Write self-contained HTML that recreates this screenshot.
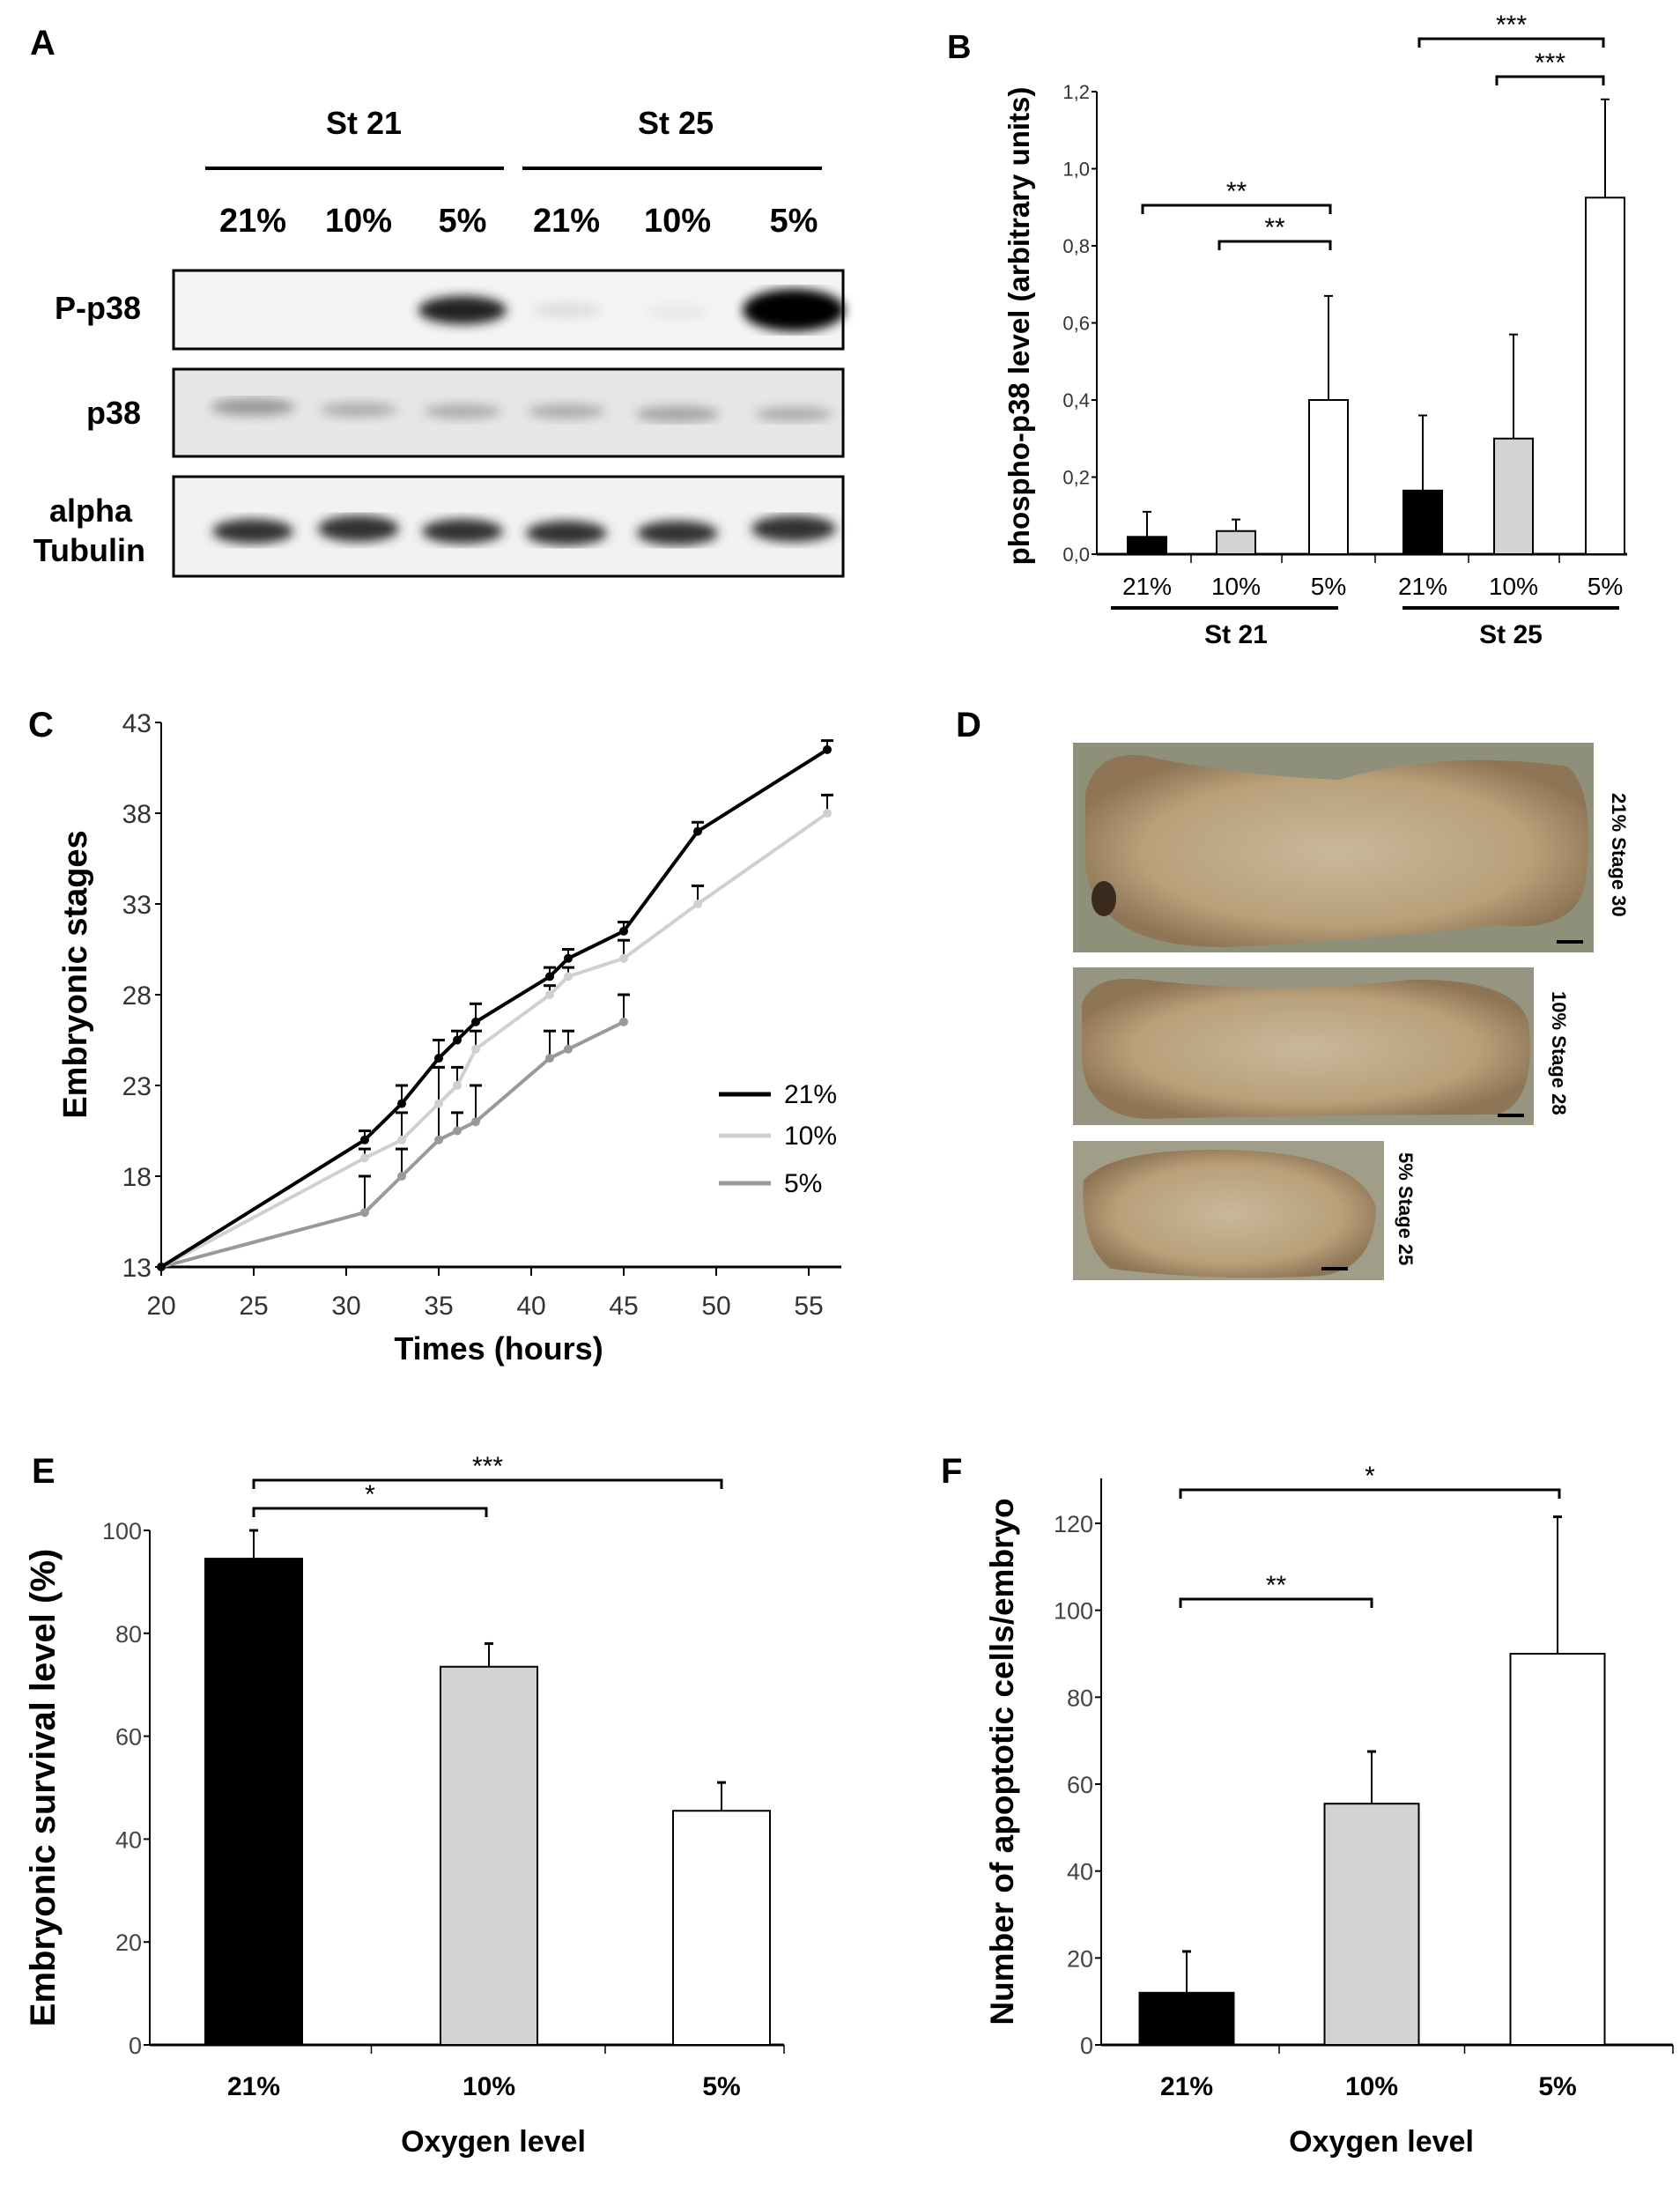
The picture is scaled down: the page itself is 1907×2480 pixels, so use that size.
<!DOCTYPE html>
<html><head><meta charset="utf-8">
<style>
html,body{margin:0;padding:0;background:#fff;}
svg{display:block;}
.nar{font-family:"Liberation Sans Narrow","Liberation Sans",sans-serif;}
.bold{font-family:"Liberation Sans",sans-serif;font-weight:bold;}
</style></head>
<body>
<svg id="fig" width="1907" height="2480" viewBox="0 0 1907 2480" xmlns="http://www.w3.org/2000/svg">
<defs>
<radialGradient id="emb" cx="50%" cy="50%" r="55%">
<stop offset="0" stop-color="#c9b89a"/><stop offset="0.7" stop-color="#b8a07a"/><stop offset="1" stop-color="#8d7556"/>
</radialGradient>
<filter id="blur"><feGaussianBlur stdDeviation="6"/></filter>
</defs>
<g id="panelA">
<text x="34" y="62" class="bold" font-size="40">A</text>
<text x="413" y="152" class="nar" font-weight="bold" font-size="36" text-anchor="middle">St 21</text>
<text x="767" y="152" class="nar" font-weight="bold" font-size="36" text-anchor="middle">St 25</text>
<line x1="233" y1="191" x2="572" y2="191" stroke="#000" stroke-width="4"/>
<line x1="593" y1="191" x2="933" y2="191" stroke="#000" stroke-width="4"/>
<g class="nar" font-weight="bold" font-size="38" text-anchor="middle">
<text x="287" y="263">21%</text><text x="407" y="263">10%</text><text x="525" y="263">5%</text>
<text x="643" y="263">21%</text><text x="769" y="263">10%</text><text x="901" y="263">5%</text>
</g>
<g class="nar" font-weight="bold" font-size="36" text-anchor="end">
<text x="160" y="362">P-p38</text>
<text x="160" y="481">p38</text>
<text x="150" y="592">alpha</text>
<text x="165" y="637">Tubulin</text>
</g>
<g>
<rect x="197" y="307" width="760" height="89" fill="#f4f4f4" stroke="#000" stroke-width="3"/>
<g filter="url(#blur)">
<ellipse cx="525" cy="352" rx="50" ry="16" fill="#222"/>
<ellipse cx="643" cy="352" rx="40" ry="8" fill="#ddd"/>
<ellipse cx="769" cy="354" rx="35" ry="6" fill="#e4e4e4"/>
<ellipse cx="901" cy="352" rx="58" ry="24" fill="#000"/>
</g></g>
<g>
<rect x="197" y="419" width="760" height="99" fill="#e6e6e6" stroke="#000" stroke-width="3"/>
<g filter="url(#blur)" fill="#999">
<ellipse cx="287" cy="462" rx="48" ry="10"/><ellipse cx="407" cy="465" rx="44" ry="8" fill="#aaa"/><ellipse cx="525" cy="467" rx="44" ry="8" fill="#aaa"/>
<ellipse cx="643" cy="467" rx="44" ry="8" fill="#aaa"/><ellipse cx="769" cy="470" rx="48" ry="9" fill="#a4a4a4"/><ellipse cx="901" cy="470" rx="44" ry="8" fill="#aaa"/>
</g></g>
<g>
<rect x="197" y="541" width="760" height="113" fill="#f2f2f2" stroke="#000" stroke-width="3"/>
<g filter="url(#blur)" fill="#333">
<ellipse cx="287" cy="603" rx="46" ry="14"/><ellipse cx="407" cy="600" rx="46" ry="15"/><ellipse cx="525" cy="603" rx="46" ry="14"/>
<ellipse cx="643" cy="605" rx="46" ry="14"/><ellipse cx="769" cy="605" rx="46" ry="14"/><ellipse cx="901" cy="600" rx="48" ry="15"/>
</g></g>
</g>
<g id="panelB"></g>
<g id="panelC"></g>
<g id="panelD">
<text x="1085" y="836" class="bold" font-size="40">D</text>
<g>
<rect x="1218" y="843" width="591" height="238" fill="#8e9079"/>
<path d="M1232 900 Q1245 850 1300 858 Q1400 880 1520 885 Q1640 850 1780 870 Q1812 900 1800 1000 Q1790 1060 1700 1050 Q1520 1070 1390 1075 Q1240 1075 1232 980 Z" fill="url(#emb)"/>
<ellipse cx="1253" cy="1020" rx="14" ry="20" fill="#3a2b1e"/>
<rect x="1767" y="1067" width="30" height="4" fill="#000"/>
</g>
<text transform="translate(1830,900) rotate(90)" class="bold" font-size="22">21% Stage 30</text>
<g>
<rect x="1218" y="1098" width="523" height="179" fill="#959581"/>
<path d="M1228 1140 Q1240 1105 1300 1112 Q1450 1130 1600 1112 Q1720 1110 1735 1160 Q1745 1250 1700 1265 Q1500 1265 1300 1270 Q1230 1265 1228 1200 Z" fill="url(#emb)"/>
<rect x="1700" y="1264" width="30" height="4" fill="#000"/>
</g>
<text transform="translate(1762,1125) rotate(90)" class="bold" font-size="22">10% Stage 28</text>
<g>
<rect x="1218" y="1295" width="353" height="158" fill="#a09d88"/>
<path d="M1230 1340 Q1260 1305 1380 1305 Q1540 1305 1562 1370 Q1560 1440 1500 1448 Q1380 1455 1260 1440 Q1225 1410 1230 1340 Z" fill="url(#emb)"/>
<rect x="1500" y="1438" width="30" height="4" fill="#000"/>
</g>
<text transform="translate(1588,1308) rotate(90)" class="bold" font-size="22">5% Stage 25</text>
</g>
<g id="panelE"></g>
<g id="panelF"></g>
</svg>
<script>
const NS='http://www.w3.org/2000/svg';
function mk(parent,tag,attrs,text){const e=document.createElementNS(NS,tag);for(const k in attrs)e.setAttribute(k,attrs[k]);if(text!==undefined)e.textContent=text;parent.appendChild(e);return e;}

// ---- Panel B data ----
const bCategories=['21%','10%','5%','21%','10%','5%'];
const bValues=[0.045,0.06,0.40,0.165,0.30,0.925];
const bErrTop=[0.11,0.09,0.67,0.36,0.57,1.18];
const bFills=['#000','#d3d3d3','#fff','#000','#d3d3d3','#fff'];
const bTicks=['0,0','0,2','0,4','0,6','0,8','1,0','1,2'];
// ---- Panel C data ----
const cTimes21=[20,31,33,35,36,37,41,42,45,49,56];
const cStage21=[13,20,22,24.5,25.5,26.5,29,30,31.5,37,41.5];
const cErr21=[0,0.5,1,1,0.5,1,0.5,0.5,0.5,0.5,0.5];
const cTimes10=[20,31,33,35,36,37,41,42,45,49,56];
const cStage10=[13,19,20,22,23,25,28,29,30,33,38];
const cErr10=[0,0.5,1.5,2,1,1,0.5,0.5,1,1,1];
const cTimes5=[20,31,33,35,36,37,41,42,45];
const cStage5=[13,16,18,20,20.5,21,24.5,25,26.5];
const cErr5=[0,2,1.5,4,1,2,1.5,1,1.5];
const cXTicks=[20,25,30,35,40,45,50,55];
const cYTicks=[13,18,23,28,33,38,43];
// ---- Panel E data ----
const eCategories=['21%','10%','5%'];
const eValues=[94.5,73.5,45.5];
const eErrTop=[100,78,51];
const eTicks=[0,20,40,60,80,100];
// ---- Panel F data ----
const fCategories=['21%','10%','5%'];
const fValues=[12,55.5,90];
const fErrTop=[21.5,67.5,121.5];
const fTicks=[0,20,40,60,80,100,120];
const triFills=['#000','#d3d3d3','#fff'];

function bracket(g,x1,x2,y,label,name){
  const p=mk(g,'path',{d:`M${x1} ${y+10}V${y}H${x2}V${y+10}`,fill:'none',stroke:'#000','stroke-width':3});
  
  
  const t=mk(g,'text',{x:(x1+x2)/2,y:y-6,'text-anchor':'middle','font-size':30,'class':'nar'},label);
  
  
}

// ===== Panel B =====
(function(){
  const g=document.getElementById('panelB');
  mk(g,'text',{x:1075,y:66,'class':'bold','font-size':38},'B');
  const x0=1245,y0=629,yTop=104,vmax=1.2;
  const ys=v=>y0-(v/vmax)*(y0-yTop);
  const centers=[1302,1403,1508,1615,1718,1822];
  const bw=44;
  mk(g,'line',{x1:x0,y1:yTop,x2:x0,y2:y0,stroke:'#000','stroke-width':2});
  mk(g,'line',{x1:x0,y1:y0,x2:1847,y2:y0,stroke:'#000','stroke-width':3});
  bTicks.forEach((t,i)=>{
    const y=ys(i*0.2);
    mk(g,'line',{x1:x0-6,y1:y,x2:x0,y2:y,stroke:'#000','stroke-width':2});
    const tx=mk(g,'text',{x:x0-8,y:y+8,'text-anchor':'end','font-size':22,'class':'nar',fill:'#333'},t);
    
    
  });
  [1352,1455,1561,1667,1770].forEach(x=>mk(g,'line',{x1:x,y1:y0,x2:x,y2:y0+10,stroke:'#000','stroke-width':1.5}));
  bCategories.forEach((c,i)=>{
    const cx=centers[i];
    const ln=mk(g,'line',{x1:cx,y1:ys(bErrTop[i]),x2:cx,y2:ys(bValues[i]),stroke:'#000','stroke-width':2});
    
    
    mk(g,'line',{x1:cx-5,y1:ys(bErrTop[i]),x2:cx+5,y2:ys(bErrTop[i]),stroke:'#000','stroke-width':2});
    const r=mk(g,'rect',{x:cx-bw/2,y:ys(bValues[i]),width:bw,height:y0-ys(bValues[i]),fill:bFills[i],stroke:'#000','stroke-width':2});
    
    
    const t=mk(g,'text',{x:cx,y:675,'text-anchor':'middle','font-size':28,'class':'nar'},c);
    
    
  });
  mk(g,'line',{x1:1261,y1:690,x2:1519,y2:690,stroke:'#000','stroke-width':4});
  mk(g,'line',{x1:1592,y1:690,x2:1838,y2:690,stroke:'#000','stroke-width':4});
  mk(g,'text',{x:1403,y:730,'text-anchor':'middle','font-size':30,'font-weight':'bold','class':'nar'},'St 21');
  mk(g,'text',{x:1715,y:730,'text-anchor':'middle','font-size':30,'font-weight':'bold','class':'nar'},'St 25');
  const yt=mk(g,'text',{transform:'translate(1168,370) rotate(-90)','text-anchor':'middle','font-size':33,'class':'bold'},'phospho-p38 level (arbitrary units)');
  
  
  bracket(g,1297,1510,233,'**','b-sig1');
  bracket(g,1384,1510,274,'**','b-sig2');
  bracket(g,1611,1820,44,'***','b-sig3');
  bracket(g,1699,1820,87,'***','b-sig4');
})();

// ===== Panel C =====
(function(){
  const g=document.getElementById('panelC');
  mk(g,'text',{x:32,y:836,'class':'bold','font-size':40},'C');
  const xs=t=>183+(t-20)*21, ys=s=>1438-(s-13)*20.6;
  mk(g,'line',{x1:183,y1:ys(43),x2:183,y2:1438,stroke:'#000','stroke-width':2});
  mk(g,'line',{x1:183,y1:1438,x2:955,y2:1438,stroke:'#000','stroke-width':3});
  cXTicks.forEach(t=>{
    mk(g,'line',{x1:xs(t),y1:1438,x2:xs(t),y2:1448,stroke:'#000','stroke-width':2});
    const tx=mk(g,'text',{x:xs(t),y:1492,'text-anchor':'middle','font-size':30,'class':'nar',fill:'#333'},t);
    
    
  });
  cYTicks.forEach(s=>{
    mk(g,'line',{x1:176,y1:ys(s),x2:183,y2:ys(s),stroke:'#000','stroke-width':2});
    const tx=mk(g,'text',{x:172,y:ys(s)+11,'text-anchor':'end','font-size':30,'class':'nar',fill:'#333'},s);
    
    
  });
  const series=[[cTimes5,cStage5,cErr5,'#999','5%'],[cTimes10,cStage10,cErr10,'#d0d0d0','10%'],[cTimes21,cStage21,cErr21,'#000','21%']];
  series.forEach(([T,S,E,col,nm])=>{
    T.forEach((t,i)=>{ if(E[i]>0){
      const x=xs(t);
      mk(g,'line',{x1:x,y1:ys(S[i]),x2:x,y2:ys(S[i]+E[i]),stroke:'#000','stroke-width':2});
      mk(g,'line',{x1:x-7,y1:ys(S[i]+E[i]),x2:x+7,y2:ys(S[i]+E[i]),stroke:'#000','stroke-width':3});
    }});
    const pl=mk(g,'polyline',{points:T.map((t,i)=>xs(t)+','+ys(S[i])).join(' '),fill:'none',stroke:col,'stroke-width':4});
    
    
    T.forEach((t,i)=>{const c=mk(g,'circle',{cx:xs(t),cy:ys(S[i]),r:5,fill:col});
      
      });
  });
  [['21%','#000',1242],['10%','#d0d0d0',1289],['5%','#999',1343]].forEach(([l,c,y])=>{
    mk(g,'line',{x1:816,y1:y,x2:875,y2:y,stroke:c,'stroke-width':5});
    const t=mk(g,'text',{x:890,y:y+10,'font-size':30,'class':'nar'},l);
    
    
  });
  mk(g,'text',{transform:'translate(98,1106) rotate(-90)','text-anchor':'middle','font-size':38,'class':'bold'},'Embryonic stages');
  mk(g,'text',{x:566,y:1543,'text-anchor':'middle','font-size':36,'font-weight':'bold','class':'nar'},'Times (hours)');
})();

// ===== Panel E & F =====
function barPanel(id,letter,lx,x0,x1,y0,yTopVal,yTopPix,axisTop,centers,bw,cats,vals,errs,ticks,title,titleX,titleSize,xTitle,xTitleX,brs){
  const g=document.getElementById(id);
  mk(g,'text',{x:lx,y:1683,'class':'bold','font-size':40},letter);
  const ys=v=>y0-(v/yTopVal)*(y0-yTopPix);
  mk(g,'line',{x1:x0,y1:axisTop,x2:x0,y2:y0,stroke:'#000','stroke-width':2});
  mk(g,'line',{x1:x0,y1:y0,x2:x1,y2:y0,stroke:'#000','stroke-width':3});
  ticks.forEach(t=>{
    mk(g,'line',{x1:x0-7,y1:ys(t),x2:x0,y2:ys(t),stroke:'#000','stroke-width':2});
    const tx=mk(g,'text',{x:x0-9,y:ys(t)+10,'text-anchor':'end','font-size':27,'class':'nar',fill:'#444'},t);
    
    
  });
  for(let i=0;i<centers.length;i++){
    const b=(i<centers.length-1)?(centers[i]+centers[i+1])/2:x1;
    mk(g,'line',{x1:b,y1:y0,x2:b,y2:y0+10,stroke:'#000','stroke-width':1.5});
  }
  cats.forEach((c,i)=>{
    const cx=centers[i];
    mk(g,'line',{x1:cx,y1:ys(errs[i]),x2:cx,y2:ys(vals[i]),stroke:'#000','stroke-width':2});
    mk(g,'line',{x1:cx-5,y1:ys(errs[i]),x2:cx+5,y2:ys(errs[i]),stroke:'#000','stroke-width':3});
    const r=mk(g,'rect',{x:cx-bw/2,y:ys(vals[i]),width:bw,height:y0-ys(vals[i]),fill:triFills[i],stroke:'#000','stroke-width':2});
    
    
    const t=mk(g,'text',{x:cx,y:2378,'text-anchor':'middle','font-size':30,'font-weight':'bold','class':'nar'},c);
    
    
  });
  mk(g,'text',{transform:`translate(${titleX},${(axisTop+y0)/2}) rotate(-90)`,'text-anchor':'middle','font-size':titleSize,'class':'bold'},title);
  mk(g,'text',{x:xTitleX,y:2442,'text-anchor':'middle','font-size':34,'font-weight':'bold','class':'nar'},xTitle);
  brs.forEach((b,k)=>bracket(g,b[0],b[1],b[2],b[3],id+'-sig'+k));
}
barPanel('panelE','E',36,170,890,2321,100,1737,1737,[288,555,819],110,eCategories,eValues,eErrTop,eTicks,'Embryonic survival level (%)',62,40,'Oxygen level',560,[[288,819,1680,'***'],[288,552,1712,'*']]);
barPanel('panelF','F',1068,1250,1899,2321,120,1729,1678,[1347,1557,1768],107,fCategories,fValues,fErrTop,fTicks,'Number of apoptotic cells/embryo',1150,37,'Oxygen level',1568,[[1340,1770,1691,'*'],[1340,1557,1815,'**']]);
</script>
</body></html>
